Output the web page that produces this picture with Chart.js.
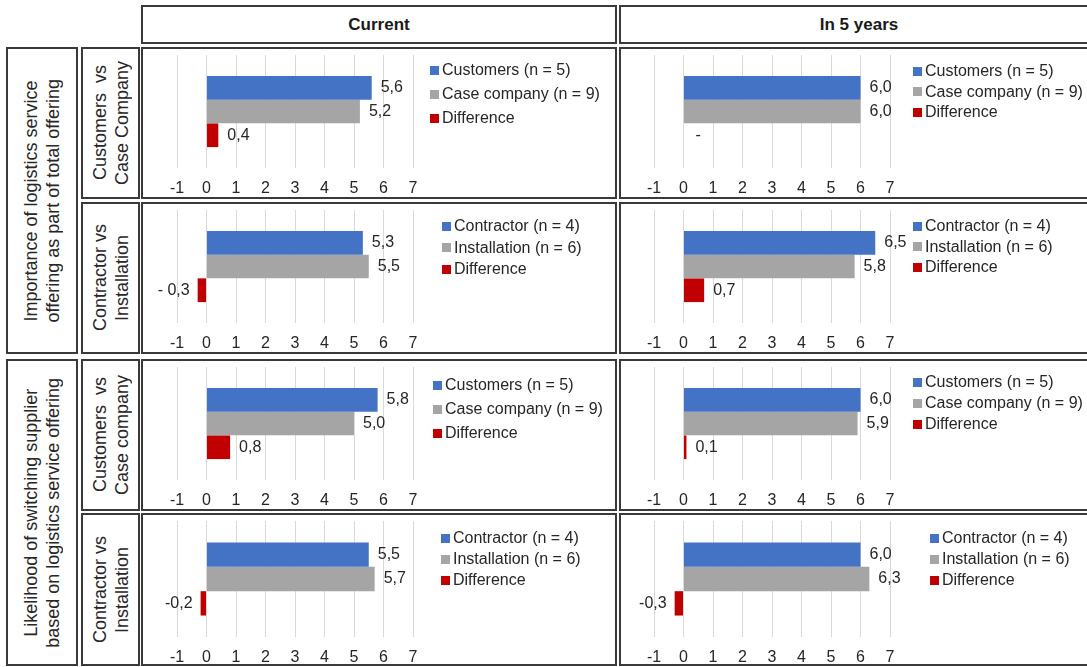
<!DOCTYPE html>
<html>
<head>
<meta charset="utf-8">
<script src="https://cdn.jsdelivr.net/npm/chart.js@4.4.1/dist/chart.umd.min.js"></script>
<style>
  html, body { margin: 0; padding: 0; background: #fff; overflow: hidden; }
  body { width: 1087px; height: 667px; position: relative; font-family: 'Liberation Sans', Arial, sans-serif; color: #262626; }
  .box { position: absolute; box-sizing: border-box; border: 2px solid #3a3a3a; background: #fff; }
  .head { display: flex; align-items: center; justify-content: center; font-weight: bold; font-size: 17px; color: #1a1a1a; }
  .side { display: flex; align-items: center; justify-content: center; }
  .side span { writing-mode: vertical-rl; transform: rotate(180deg); text-align: center; font-size: 18px; line-height: 22px; white-space: pre; }
  canvas { position: absolute; }
  .legend { position: absolute; font-size: 16px; }
  .legend div { position: absolute; left: 0; white-space: nowrap; display: flex; align-items: center; transform: translateY(-50%); }
  .legend i { display: inline-block; width: 9px; height: 9px; margin-right: 3px; }
</style>
</head>
<body>
<script>
// Datos
const periodTitles = ['Current', 'In 5 years'];
const groupLabels = ['Importance of logistics service\noffering as part of total offering', 'Likelihood of switching supplier\nbased on logistics service offering'];
const pairLabels = ['Customers  vs\nCase Company', 'Contractor vs\nInstallation', 'Customers  vs\nCase company', 'Contractor vs\nInstallation'];
const customerSeries = ['Customers (n = 5)', 'Case company (n = 9)', 'Difference'];
const contractorSeries = ['Contractor (n = 4)', 'Installation (n = 6)', 'Difference'];
const rowSeries = [customerSeries, contractorSeries, customerSeries, contractorSeries];

// Orden: fila 1 actual, fila 1 en 5 años, fila 2 actual, ...
const firstValues = [5.6, 6.0, 5.3, 6.5, 5.8, 6.0, 5.5, 6.0];
const secondValues = [5.2, 6.0, 5.5, 5.8, 5.0, 5.9, 5.7, 6.3];
const diffValues = [0.4, 0, -0.3, 0.7, 0.8, 0.1, -0.2, -0.3];
const diffLabels = ['0,4', '-', '- 0,3', '0,7', '0,8', '0,1', '-0,2', '-0,3'];
const axisMin = -1;
const axisMax = 7;

const seriesColors = ['#4472C4', '#A5A5A5', '#C00000'];
const FONT = "'Liberation Sans', Arial, sans-serif";

// Geometría de la cuadrícula
const colX = [141, 619];
const colW = [476, 480];
const rowY = [47, 202, 359, 513];
const rowH = [152, 152, 152, 153];
const axisH = [31, 31, 31, 29];
const plotLeft = [36, 35];
const plotWidth = 236;
// Leyenda: x relativo al panel, y del primer elemento, separación
const legendPos = [
    [[289, 23, 24], [294, 24, 20.5]],
    [[301, 24, 21.5], [294, 24, 20.5]],
    [[292, 26, 24], [294, 23, 21]],
    [[300, 25, 21], [311, 25, 21]]
];

function addBox(x, y, w, h, cls) {
    const d = document.createElement('div');
    d.className = 'box ' + (cls || '');
    d.style.left = x + 'px';
    d.style.top = y + 'px';
    d.style.width = w + 'px';
    d.style.height = h + 'px';
    document.body.appendChild(d);
    return d;
}

// Encabezados
periodTitles.forEach((t, c) => {
    addBox(colX[c], 5, colW[c], 39, 'head').textContent = t;
});

// Etiquetas laterales
[[47, 307], [359, 307]].forEach(([top, hh], g) => {
    const b = addBox(6, top, 72, hh, 'side');
    const s = document.createElement('span');
    s.textContent = groupLabels[g];
    b.appendChild(s);
});
pairLabels.forEach((t, r) => {
    const b = addBox(81, rowY[r], 59, rowH[r], 'side');
    const s = document.createElement('span');
    s.textContent = t;
    b.appendChild(s);
});

// Etiquetas de valores junto a las barras
const valueLabels = {
    id: 'valueLabels',
    afterDatasetsDraw(chart, args, opts) {
        const ctx = chart.ctx;
        const xs = chart.scales.x;
        ctx.save();
        ctx.font = '16px ' + FONT;
        ctx.fillStyle = '#262626';
        ctx.textBaseline = 'middle';
        chart.data.datasets.forEach((ds, i) => {
            const bar = chart.getDatasetMeta(i).data[0];
            const v = ds.data[0];
            const txt = opts.texts[i];
            if (v < 0) {
                ctx.textAlign = 'right';
                ctx.fillText(txt, bar.x - 8, bar.y);
            } else {
                ctx.textAlign = 'left';
                const x = v === 0 ? xs.getPixelForValue(0) + 12 : bar.x + 9;
                ctx.fillText(txt, x, bar.y);
            }
        });
        ctx.restore();
    }
};

const fmt = v => v.toFixed(1).replace('.', ',');

for (let r = 0; r < 4; r++) {
    for (let c = 0; c < 2; c++) {
        const k = r * 2 + c;
        const x = colX[c], y = rowY[r], w = colW[c], h = rowH[r];
        addBox(x, y, w, h);

        const canvas = document.createElement('canvas');
        canvas.width = w;
        canvas.height = h;
        canvas.style.left = x + 'px';
        canvas.style.top = y + 'px';
        canvas.style.width = w + 'px';
        canvas.style.height = h + 'px';
        document.body.appendChild(canvas);

        const vals = [firstValues[k], secondValues[k], diffValues[k]];
        const texts = [fmt(firstValues[k]), fmt(secondValues[k]), diffLabels[k]];
        const names = rowSeries[r];
        const xAxisHeight = axisH[r];

        new Chart(canvas, {
            type: 'bar',
            data: {
                labels: [''],
                datasets: names.map((name, i) => ({
                    label: name,
                    data: [vals[i]],
                    backgroundColor: seriesColors[i],
                    borderWidth: 0
                }))
            },
            options: {
                indexAxis: 'y',
                responsive: false,
                animation: false,
                devicePixelRatio: 1,
                layout: { padding: { left: plotLeft[c], right: w - plotLeft[c] - plotWidth, top: 8, bottom: 0 } },
                datasets: { bar: { barPercentage: 1, categoryPercentage: 0.63 } },
                plugins: {
                    legend: { display: false },
                    tooltip: { enabled: false },
                    valueLabels: { texts: texts }
                },
                scales: {
                    x: {
                        min: axisMin,
                        max: axisMax,
                        afterFit: scale => { scale.height = xAxisHeight; },
                        ticks: { stepSize: 1, padding: 11, color: '#262626', font: { family: FONT, size: 16 } },
                        grid: { color: '#d9d9d9', lineWidth: 1, drawTicks: false },
                        border: { display: false }
                    },
                    y: { display: false }
                }
            },
            plugins: [valueLabels]
        });

        // Leyenda HTML
        const [lx, ly, gap] = legendPos[r][c];
        const lg = document.createElement('div');
        lg.className = 'legend';
        lg.style.left = (x + lx) + 'px';
        lg.style.top = (y + ly) + 'px';
        names.forEach((name, i) => {
            const item = document.createElement('div');
            item.style.top = (i * gap) + 'px';
            item.innerHTML = '<i style="background:' + seriesColors[i] + '"></i><span></span>';
            item.querySelector('span').textContent = name;
            lg.appendChild(item);
        });
        document.body.appendChild(lg);
    }
}
</script>
</body>
</html>
